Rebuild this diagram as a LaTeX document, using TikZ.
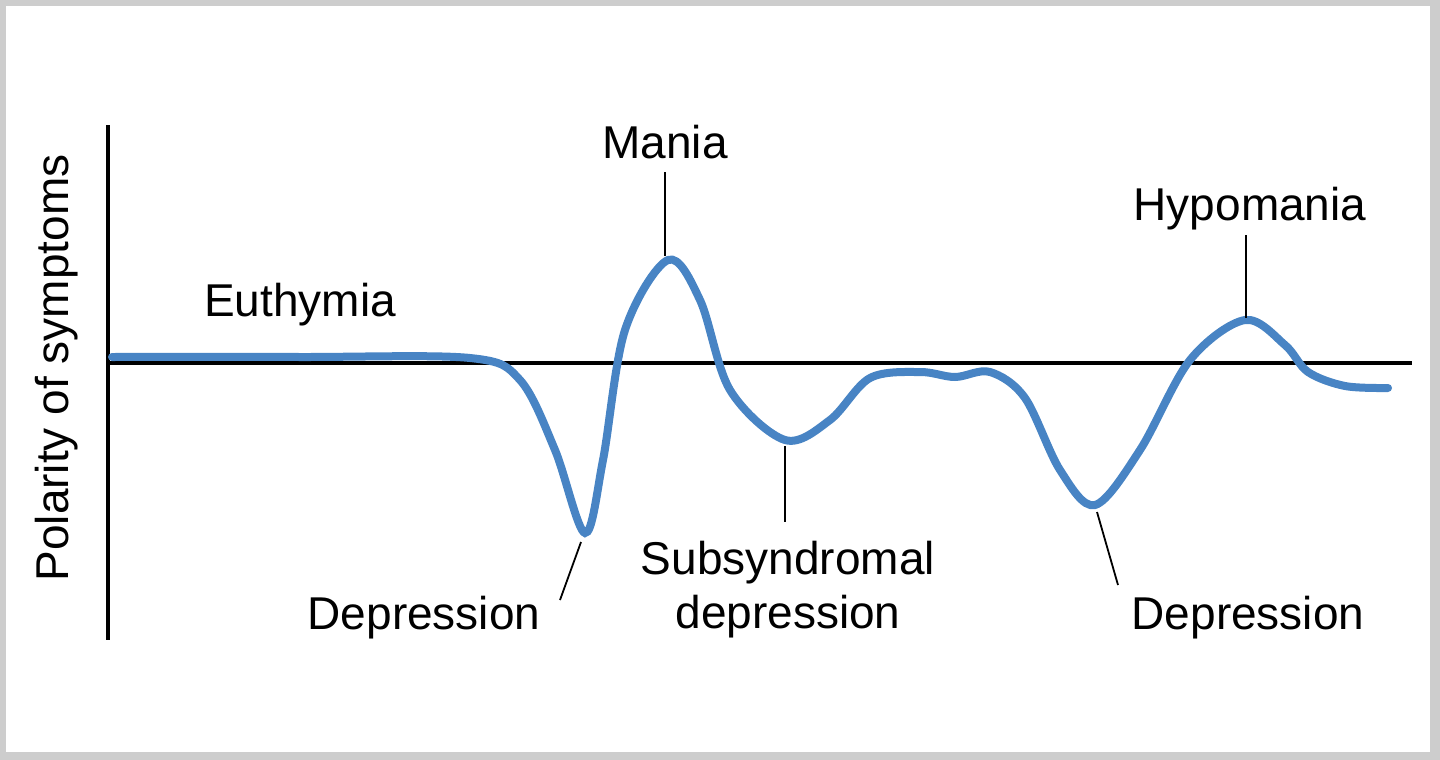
\documentclass[tikz,border=0pt]{standalone}
\usepackage{fontspec}
\setmainfont{Liberation Sans}
\definecolor{curveblue}{RGB}{72,132,196}
\definecolor{framegray}{RGB}{205,205,205}
\begin{document}
\begin{tikzpicture}[x=1pt,y=-1pt,
  lbl/.style={font=\fontsize{46}{54}\selectfont,inner sep=0pt},
  leader/.style={line width=1.8pt}]
\useasboundingbox (0,0) rectangle (1440,760);
\fill[framegray] (0,0) rectangle (1440,760);
\fill[white] (6,6) rectangle (1430,752);
% axes
\coordinate (ytop) at (108,125); \coordinate (ybot) at (108,640);
\coordinate (xl) at (108,363); \coordinate (xr) at (1412,363);
\draw[line width=4pt] (ytop) -- (ybot);
\draw[line width=3.5pt] (xl) -- (xr);
% curve
\draw[curveblue,line width=8pt,line cap=round] plot[smooth,tension=0.55] coordinates{
 (112,357) (300,357) (470,358) (520,380) (555,450) (585,533) (603,460) (625,330)
 (668,260) (700,300) (730,390) (785,440) (830,420) (870,378) (920,372) (955,377)
 (990,372) (1025,398) (1060,470) (1095,505) (1140,450) (1190,360) (1245,320) (1285,345)
 (1308,372) (1345,386) (1388,388)};
% labels
\node[lbl] (yl) at (57,368) [rotate=90] {Polarity of symptoms};
\node[lbl] (eu) at (300,305) {Euthymia};
\node[lbl] (ma) at (665,142) {Mania};
\node[lbl] (hy) at (1250,209) {Hypomania};
\node[lbl] (d1) at (424,618) {Depression};
\node[lbl,align=center] (sd) at (788,590) {Subsyndromal\\depression};
\node[lbl] (d2) at (1248,618) {Depression};
% leaders
\coordinate (mt) at (665,172); \coordinate (mb) at (665,256);
\draw[leader] (mt) -- (mb);
\coordinate (ht) at (1246,235); \coordinate (hb) at (1246,318);
\draw[leader] (ht) -- (hb);
\coordinate (d1a) at (581,542); \coordinate (d1b) at (560,600);
\draw[leader] (d1a) -- (d1b);
\coordinate (sa) at (785,446); \coordinate (sb) at (785,522);
\draw[leader] (sa) -- (sb);
\coordinate (d2a) at (1097,512); \coordinate (d2b) at (1118,585);
\draw[leader] (d2a) -- (d2b);
\end{tikzpicture}
\end{document}
